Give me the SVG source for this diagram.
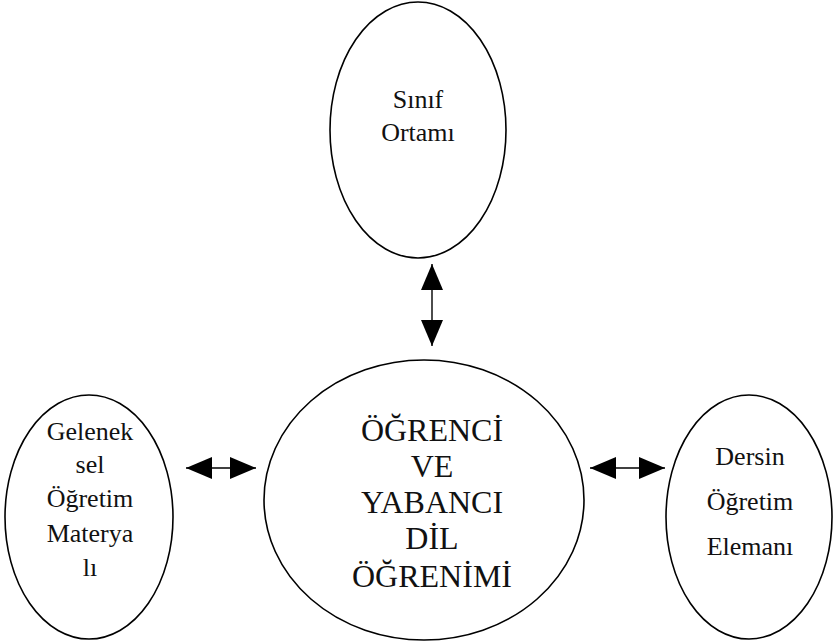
<svg xmlns="http://www.w3.org/2000/svg" width="834" height="643" viewBox="0 0 834 643">
<style>
.node{fill:none;stroke:#000;stroke-width:1.6}
.lbl{font-family:"Liberation Serif","Times New Roman",serif;font-size:26px;fill:#111;text-anchor:middle}
.big{font-size:32px}
.conn{stroke:#000;stroke-width:1.4;fill:none}
</style>
<defs>
<marker id="ah" viewBox="0 0 26 22" refX="26" refY="11" markerWidth="26" markerHeight="22" markerUnits="userSpaceOnUse" orient="auto-start-reverse">
<path d="M0,0 L26,11 L0,22 Z" fill="#000"/>
</marker>
</defs>
<rect width="834" height="643" fill="#fff"/>
<g id="connectors">
<line class="conn" x1="432" y1="264" x2="432" y2="346" marker-start="url(#ah)" marker-end="url(#ah)"/>
<line class="conn" x1="186" y1="468" x2="256" y2="468" marker-start="url(#ah)" marker-end="url(#ah)"/>
<line class="conn" x1="590" y1="468" x2="665" y2="468" marker-start="url(#ah)" marker-end="url(#ah)"/>
</g>
<g id="sinif-ortami">
<ellipse class="node" cx="418" cy="130" rx="88" ry="128"/>
<text class="lbl" x="418" y="108">Sınıf</text>
<text class="lbl" x="418" y="141">Ortamı</text>
</g>
<g id="ogrenci">
<ellipse class="node" cx="424" cy="500" rx="160" ry="140"/>
<text class="lbl big" x="432" y="441">ÖĞRENCİ</text>
<text class="lbl big" x="432" y="477">VE</text>
<text class="lbl big" x="432" y="513">YABANCI</text>
<text class="lbl big" x="432" y="549">DİL</text>
<text class="lbl big" x="432" y="587">ÖĞRENİMİ</text>
</g>
<g id="geleneksel">
<ellipse class="node" cx="89" cy="517" rx="84" ry="122"/>
<text class="lbl" x="90" y="440">Gelenek</text>
<text class="lbl" x="90" y="473">sel</text>
<text class="lbl" x="90" y="507">Öğretim</text>
<text class="lbl" x="90" y="542">Materya</text>
<text class="lbl" x="90" y="576">lı</text>
</g>
<g id="dersin">
<ellipse class="node" cx="749" cy="517" rx="83" ry="122"/>
<text class="lbl" x="750" y="465">Dersin</text>
<text class="lbl" x="750" y="510">Öğretim</text>
<text class="lbl" x="750" y="555">Elemanı</text>
</g>
</svg>
